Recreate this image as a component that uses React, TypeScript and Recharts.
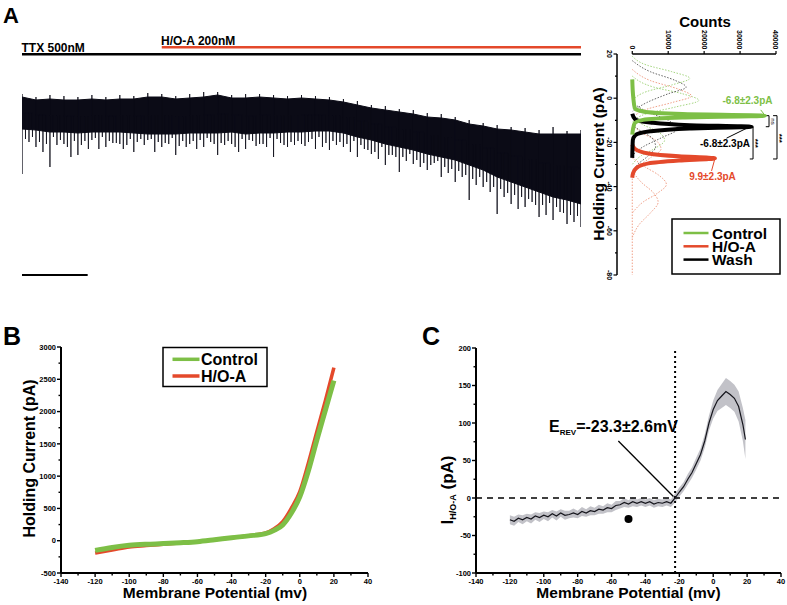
import React from "react";
import {
  ComposedChart,
  ScatterChart,
  Scatter,
  Line,
  Area,
  XAxis,
  YAxis,
  ReferenceLine,
  ReferenceDot,
} from "recharts";

const FONT = '"Liberation Sans", Arial, Helvetica, sans-serif';
const GREEN = "#7dbf46";
const RED = "#e4492b";
const INK = "#000";
const TRACE = "#0b0b16";

// ---- A: holding current trace (t = sample index, pA relative to start)
const traceT = [0, 1, 2, 3, 4, 5, 6, 7, 8, 9, 10, 11, 12, 13, 14, 15, 16, 17, 18, 19, 20, 21, 22, 23, 24, 25, 26, 27, 28, 29, 30, 31, 32, 33, 34, 35, 36, 37, 38, 39, 40];
const traceTop = [0, -3, -2, -3, -3, -2, -3, -2, -2, 0, 0, -2, -1, 0, 2, -1, -1, 0, -1, -2, -1, -2, -3, -5, -8, -11, -13, -15, -17, -20, -21, -23, -27, -29, -32, -33, -35, -37, -37, -37, -37];
const traceBottom = [-32, -33, -35, -35, -36, -35, -35, -35, -36, -37, -37, -37, -36, -36, -36, -35, -37, -36, -36, -35, -35, -34, -34, -36, -40, -43, -47, -50, -53, -57, -60, -63, -68, -73, -80, -85, -90, -95, -100, -103, -107];
// upward excursions above the dense band
const traceUp = [3, 0, 2, 1, 0, 2, 0, 2, 1, 4, 3, 1, 3, 5, 5, 2, 3, 3, 2, 1, 2, 1, 0, -2, -4, -8, -9, -12, -13, -16, -17, -20, -23, -26, -28, -30, -31, -33, -30, -34, -33];
// downward events at t, t+0.25, t+0.5, t+0.75
const traceSpike = [-77, -50, -70, -47, -58, -43, -50, -47, -55, -43, -50, -58, -47, -50, -58, -47, -52, -47, -60, -50, -47, -52, -53, -50, -60, -57, -68, -75, -67, -73, -80, -85, -103, -90, -117, -107, -110, -120, -123, -127, -130];
const traceSpikeC = [-42, -45, -40, -50, -48, -41, -44, -52, -45, -42, -46, -49, -44, -41, -46, -50, -43, -47, -42, -45, -49, -40, -44, -47, -48, -55, -58, -60, -63, -68, -70, -74, -82, -85, -92, -98, -102, -108, -110, -118];
const traceSpikeB = [-45, -55, -48, -60, -44, -52, -46, -48, -42, -55, -47, -44, -52, -45, -48, -55, -44, -50, -46, -48, -45, -50, -48, -55, -52, -62, -58, -64, -70, -66, -76, -80, -88, -95, -100, -112, -105, -118, -115, -125];
const traceSpikeD = [-40, -47, -43, -44, -52, -40, -46, -42, -48, -45, -41, -50, -43, -47, -44, -42, -49, -41, -48, -44, -42, -46, -45, -44, -53, -50, -60, -57, -66, -64, -72, -78, -80, -90, -96, -100, -108, -106, -116, -119];

const drugs = [
  { name: "TTX 500nM", from: 0, to: 40, level: 42.7, color: INK },
  { name: "H/O-A 200nM", from: 10, to: 40, level: 49.7, color: RED },
];
const scaleBar = { from: 0, to: 4.7, level: -178 };

// ---- A: all-points histograms, [pA, counts]
const histControl = [[8.5, 0], [0, 300], [-4.5, 700], [-6, 3000], [-7.2, 14000], [-7.9, 36900], [-8.7, 14000], [-9.8, 3000], [-11.5, 600], [-16.5, 0]];
const histHOA = [[-21, 0], [-23, 800], [-25, 4500], [-26.3, 13000], [-27.2, 23000], [-28.2, 13000], [-29.5, 4500], [-31.5, 1200], [-34, 200], [-36, 0]];
const histWash = [[-7, 0], [-9.5, 800], [-11, 5000], [-12.2, 16000], [-12.9, 33200], [-13.7, 16000], [-15, 5000], [-16.8, 800], [-19, 150], [-27, 0]];

const cellsControl = [
  [[19, 0], [15, 4000], [12, 11000], [9, 16000], [6, 11000], [3, 4000], [-1, 0]],
  [[10, 0], [5, 6000], [2, 14000], [-1, 18500], [-4, 12000], [-7, 4000], [-11, 0]],
  [[-8, 0], [-12, 3000], [-15, 7000], [-19, 9000], [-23, 6000], [-26, 2500], [-30, 0]],
];
const cellsHOA = [
  [[13, 0], [8, 5000], [4, 13000], [1, 16500], [-2, 11000], [-5, 4000], [-9, 0]],
  [[-12, 0], [-16, 3000], [-19, 6500], [-23, 8000], [-27, 5000], [-31, 1500], [-34, 0]],
  [[-27, 0], [-31, 3500], [-35, 7500], [-39, 9500], [-43, 7000], [-47, 3000], [-52, 0]],
  [[-33, 0], [-38, 2500], [-43, 6000], [-47, 7200], [-52, 5000], [-57, 2000], [-63, 0]],
  [[-35, 0], [-80, 0]],
];
const cellsWash = [
  [[17, 0], [12, 5000], [8, 12000], [5, 15000], [2, 10000], [-2, 4000], [-6, 0]],
  [[-2, 0], [-6, 4000], [-10, 10000], [-14, 12500], [-18, 8000], [-22, 3000], [-26, 0]],
  [[-12, 0], [-15, 2500], [-18, 5500], [-22, 6500], [-26, 4500], [-30, 1500], [-34, 0]],
];

const histYTicks = [-80, -70, -60, -50, -40, -30, -20, -10, 0, 10, 20];
const histXTicks = [0, 10000, 20000, 30000, 40000];

// leader lines from labels to peaks, [counts, pA]
const leaders = [
  { color: GREEN, from: [35750, -5.3], to: [36860, -7.6] },
  { color: INK, from: [26220, -18.1], to: [32700, -12.9] },
  { color: RED, from: [22060, -32.9], to: [22970, -27.5] },
];
// significance brackets: vertical at x (counts), between two pA levels
const brackets = [
  { x: 38060, top: -7.9, bottom: -12.9, arm: 900 },
  { x: 33610, top: -12.9, bottom: -27.5, arm: 900 },
  { x: 40280, top: -7.9, bottom: -27.5, arm: 1100 },
];

// ---- B: I-V curves
const ivV = [-120, -110, -100, -90, -80, -70, -60, -50, -40, -30, -20, -15, -10, -5, 0, 5, 10, 15, 20];
const ivControl = [-150, -105, -72, -55, -45, -32, -15, 15, 47, 75, 110, 160, 245, 425, 680, 1080, 1560, 2020, 2480];
const ivHOA = [-190, -145, -97, -75, -55, -35, -15, 15, 47, 78, 120, 185, 295, 500, 760, 1200, 1690, 2170, 2680];
const ivXTicks = [-140, -130, -120, -110, -100, -90, -80, -70, -60, -50, -40, -30, -20, -10, 0, 10, 20, 30, 40];
const ivYTicks = [-500, -250, 0, 250, 500, 750, 1000, 1250, 1500, 1750, 2000, 2250, 2500, 2750, 3000];

// ---- C: H/O-A induced current
const cV = [-120, -117.5, -115, -112.5, -110, -107.5, -105, -102.5, -100, -97.5, -95, -92.5, -90, -87.5, -85, -82.5, -80, -77.5, -75, -72.5, -70, -67.5, -65, -62.5, -60, -57.5, -55, -52.5, -50, -47.5, -45, -42.5, -40, -37.5, -35, -32.5, -30, -27.5, -25, -22.5, -20, -17.5, -15, -12.5, -10, -7.5, -5, -2.5, 0, 2.5, 5, 7.5, 10, 12.5, 15, 17.5, 19];
const cI = [-29, -31, -27, -29, -26, -28, -24, -26, -23, -25, -21, -24, -20, -23, -22, -20, -22, -18, -20, -17, -18, -15, -16, -13, -14, -10, -9, -6, -8, -5, -7, -5, -7, -5, -8, -6, -7, -5, -7, 0, 8, 15, 25, 34, 46, 58, 76, 100, 118, 130, 136, 142, 138, 133, 122, 98, 78];
const cSem = [6, 6, 5, 6, 5, 6, 5, 6, 5, 6, 5, 6, 5, 6, 5, 6, 5, 6, 5, 6, 5, 6, 5, 6, 5, 6, 5, 6, 5, 6, 5, 5, 5, 5, 5, 5, 5, 5, 5, 6, 6, 6, 7, 7, 8, 8, 9, 10, 12, 14, 16, 18, 18, 18, 20, 22, 26];
const cYTicks = [-100, -75, -50, -25, 0, 25, 50, 75, 100, 125, 150, 175, 200];
const eRev = -22.5;
const eRevPointer = { from: { x: -56, y: 76 }, to: { x: -23.5, y: 2 } };
const markDot = { x: -50, y: -28 };

const histLegend = [
  { name: "Control", color: GREEN },
  { name: "H/O-A", color: RED },
  { name: "Wash", color: INK },
];
const ivLegend = [
  { name: "Control", color: GREEN },
  { name: "H/O-A", color: RED },
];

const traceRows = traceT.map((t, i) => ({ t, band: [traceBottom[i], traceTop[i]] }));
// one continuous trace: each event is a vertical excursion out of the band's middle
const spikeRows = traceT.flatMap((t, i) => {
  const mid = (traceTop[i] + traceBottom[i]) / 2;
  const rows = [{ t, v: mid }, { t, v: traceUp[i] }, { t, v: traceSpike[i] }, { t, v: mid }];
  const extra: [number, number[]][] = [[0.25, traceSpikeC], [0.5, traceSpikeB], [0.75, traceSpikeD]];
  extra.forEach(([dt, arr]) => {
    if (i < arr.length) rows.push({ t: t + dt, v: mid }, { t: t + dt, v: arr[i] }, { t: t + dt, v: mid });
  });
  return rows;
});
const ivRows = ivV.map((v, i) => ({ v, ctl: ivControl[i], hoa: ivHOA[i] }));
const cRows = cV.map((v, i) => ({ v, m: cI[i], band: [cI[i] - cSem[i], cI[i] + cSem[i]] }));
const toPts = (a: number[][]) => a.map(([p, c]) => ({ p, c }));

const noDot = () => <g />;

const tickText = { fontSize: 7.5, fontWeight: 700, fontFamily: FONT, fill: INK };

const bottomTick = (major: number) => (p: any) => {
  const v = p.payload.value;
  const isMajor = Math.abs(v) % major === 0;
  return (
    <g>
      <line x1={p.x} y1={p.y} x2={p.x} y2={p.y + (isMajor ? 4 : 2.5)} stroke={INK} strokeWidth={1.4} />
      {isMajor && (
        <text x={p.x} y={p.y + 10.5} textAnchor="middle" {...tickText}>
          {v}
        </text>
      )}
    </g>
  );
};

const leftTick = (major: number) => (p: any) => {
  const v = p.payload.value;
  const isMajor = Math.abs(v) % major === 0;
  return (
    <g>
      <line x1={p.x} y1={p.y} x2={p.x - (isMajor ? 4 : 2.5)} y2={p.y} stroke={INK} strokeWidth={1.4} />
      {isMajor && (
        <text x={p.x - 5} y={p.y + 2.7} textAnchor="end" {...tickText}>
          {v}
        </text>
      )}
    </g>
  );
};

// histogram is drawn sideways, so its labels read top to bottom
const histLeftTick = (p: any) => {
  const v = p.payload.value;
  const isMajor = Math.abs(v) % 20 === 0;
  const tx = p.x - 10.5;
  return (
    <g>
      <line x1={p.x} y1={p.y} x2={p.x - (isMajor ? 3.5 : 2)} y2={p.y} stroke={INK} strokeWidth={1.2} />
      {isMajor && (
        <text x={tx} y={p.y} transform={`rotate(90 ${tx} ${p.y})`} textAnchor="middle" {...tickText} fontSize={7}>
          {v}
        </text>
      )}
    </g>
  );
};

const histTopTick = (p: any) => {
  const tx = p.x - 2.6;
  const ty = p.y - 4.5;
  return (
    <g>
      <line x1={p.x} y1={p.y} x2={p.x} y2={p.y - 3} stroke={INK} strokeWidth={1.2} />
      <text x={tx} y={ty} transform={`rotate(90 ${tx} ${ty})`} textAnchor="end" {...tickText} fontSize={7}>
        {p.payload.value}
      </text>
    </g>
  );
};

function LegendBox({ items, x, y, w, h, firstY, rowH, lineX1, lineX2, lineW, textX, fontSize }: {
  items: { name: string; color: string }[];
  x: number;
  y: number;
  w: number;
  h: number;
  firstY: number;
  rowH: number;
  lineX1: number;
  lineX2: number;
  lineW: number;
  textX: number;
  fontSize: number;
}) {
  return (
    <g>
      <rect x={x} y={y} width={w} height={h} fill="#fff" stroke={INK} strokeWidth={1.5} />
      {items.map((it, i) => {
        const cy = firstY + i * rowH;
        return (
          <g key={it.name}>
            <line x1={lineX1} x2={lineX2} y1={cy} y2={cy} stroke={it.color} strokeWidth={lineW} />
            <text x={textX} y={cy + fontSize * 0.36} fontSize={fontSize}>
              {it.name}
            </text>
          </g>
        );
      })}
    </g>
  );
}

export default function App() {
  const axisStroke = { stroke: INK, strokeWidth: 2 };
  return (
    <div style={{ position: "relative", width: 787, height: 605, background: "#fff", fontFamily: FONT, overflow: "hidden" }}>
      <style>{"body{margin:0}"}</style>

      {/* A: trace */}
      <div style={{ position: "absolute", left: 22, top: 40 }}>
        <ComposedChart width={559} height={240} data={traceRows} margin={{ top: 0, right: 0, bottom: 0, left: 0 }}>
          <XAxis dataKey="t" type="number" domain={[0, 40]} allowDataOverflow hide />
          <YAxis type="number" domain={[-183, 57]} allowDataOverflow hide />
          <Area dataKey="band" type="linear" stroke={TRACE} strokeWidth={1} fill={TRACE} fillOpacity={1} isAnimationActive={false} />
          <Line data={spikeRows} dataKey="v" type="linear" stroke={TRACE} strokeWidth={0.8} dot={false} isAnimationActive={false} />
          {drugs.map((d) => (
            <ReferenceLine
              key={d.name}
              segment={[{ x: d.from, y: d.level }, { x: d.to, y: d.level }]}
              stroke={d.color}
              strokeWidth={2.5}
              ifOverflow="visible"
            />
          ))}
          <ReferenceLine
            segment={[{ x: scaleBar.from, y: scaleBar.level }, { x: scaleBar.to, y: scaleBar.level }]}
            stroke={INK}
            strokeWidth={2}
            ifOverflow="visible"
          />
        </ComposedChart>
      </div>

      {/* A: histogram */}
      <div style={{ position: "absolute", left: 587, top: 24 }}>
        <ScatterChart width={200} height={256} margin={{ top: 0, right: 11, bottom: 5, left: 0 }}>
          <XAxis
            dataKey="c"
            type="number"
            orientation="top"
            domain={[-4250, 40000]}
            allowDataOverflow
            ticks={histXTicks}
            interval={0}
            height={30}
            axisLine={false}
            tickLine={false}
            tickSize={0}
            tickMargin={0}
            tick={histTopTick}
          />
          <YAxis
            dataKey="p"
            type="number"
            domain={[-80, 20]}
            allowDataOverflow
            ticks={histYTicks}
            interval={0}
            width={30}
            axisLine={{ stroke: INK, strokeWidth: 1.5 }}
            tickLine={false}
            tickSize={0}
            tickMargin={0}
            tick={histLeftTick}
          />
          <ReferenceLine segment={[{ x: 0, y: 20 }, { x: 40000, y: 20 }]} stroke={INK} strokeWidth={1.5} ifOverflow="visible" />
          {cellsControl.map((c, i) => (
            <Scatter key={`cg${i}`} data={toPts(c)} fill={GREEN} shape={noDot} lineJointType="monotoneY"
              line={{ stroke: "#a6d682", strokeWidth: 1, strokeDasharray: "1.5 1.5" }} isAnimationActive={false} />
          ))}
          {cellsHOA.map((c, i) => (
            <Scatter key={`cr${i}`} data={toPts(c)} fill={RED} shape={noDot} lineJointType="monotoneY"
              line={{ stroke: "#f0a088", strokeWidth: 1, strokeDasharray: "1.5 1.5" }} isAnimationActive={false} />
          ))}
          {cellsWash.map((c, i) => (
            <Scatter key={`ck${i}`} data={toPts(c)} fill={INK} shape={noDot} lineJointType="monotoneY"
              line={{ stroke: "#666", strokeWidth: 1, strokeDasharray: "1.5 1.5" }} isAnimationActive={false} />
          ))}
          <Scatter data={toPts(histHOA)} fill={RED} shape={noDot} lineJointType="monotoneY"
            line={{ stroke: RED, strokeWidth: 4 }} isAnimationActive={false} />
          <Scatter data={toPts(histWash)} fill={INK} shape={noDot} lineJointType="monotoneY"
            line={{ stroke: INK, strokeWidth: 4 }} isAnimationActive={false} />
          <Scatter data={toPts(histControl)} fill={GREEN} shape={noDot} lineJointType="monotoneY"
            line={{ stroke: GREEN, strokeWidth: 4 }} isAnimationActive={false} />
          {leaders.map((l, i) => (
            <ReferenceLine key={`l${i}`} segment={[{ x: l.from[0], y: l.from[1] }, { x: l.to[0], y: l.to[1] }]}
              stroke={l.color} strokeWidth={1} ifOverflow="visible" />
          ))}
          {brackets.flatMap((b, i) => [
            <ReferenceLine key={`bv${i}`} segment={[{ x: b.x, y: b.top }, { x: b.x, y: b.bottom }]} stroke={INK} strokeWidth={1} ifOverflow="visible" />,
            <ReferenceLine key={`bt${i}`} segment={[{ x: b.x - b.arm, y: b.top }, { x: b.x, y: b.top }]} stroke={INK} strokeWidth={1} ifOverflow="visible" />,
            <ReferenceLine key={`bb${i}`} segment={[{ x: b.x - b.arm, y: b.bottom }, { x: b.x, y: b.bottom }]} stroke={INK} strokeWidth={1} ifOverflow="visible" />,
          ])}
        </ScatterChart>
      </div>

      {/* B: I-V */}
      <div style={{ position: "absolute", left: 21, top: 337 }}>
        <ComposedChart width={357} height={256} data={ivRows} margin={{ top: 10, right: 10, bottom: 0, left: 0 }}>
          <XAxis dataKey="v" type="number" domain={[-140, 40]} allowDataOverflow ticks={ivXTicks} interval={0} height={20}
            axisLine={axisStroke} tickLine={false} tickSize={0} tickMargin={0} tick={bottomTick(20)} />
          <YAxis type="number" domain={[-500, 3000]} allowDataOverflow ticks={ivYTicks} interval={0} width={40}
            axisLine={axisStroke} tickLine={false} tickSize={0} tickMargin={0} tick={leftTick(500)} />
          <Line dataKey="hoa" type="monotone" stroke={RED} strokeWidth={3.5} dot={false} isAnimationActive={false} />
          <Line dataKey="ctl" type="monotone" stroke={GREEN} strokeWidth={5} dot={false} isAnimationActive={false} />
        </ComposedChart>
      </div>

      {/* C: difference current */}
      <div style={{ position: "absolute", left: 436, top: 338 }}>
        <ComposedChart width={351} height={255} data={cRows} margin={{ top: 10, right: 6, bottom: 0, left: 0 }}>
          <XAxis dataKey="v" type="number" domain={[-140, 40]} allowDataOverflow ticks={ivXTicks} interval={0} height={20}
            axisLine={axisStroke} tickLine={false} tickSize={0} tickMargin={0} tick={bottomTick(20)} />
          <YAxis type="number" domain={[-100, 200]} allowDataOverflow ticks={cYTicks} interval={0} width={40}
            axisLine={axisStroke} tickLine={false} tickSize={0} tickMargin={0} tick={leftTick(50)} />
          <ReferenceLine y={0} stroke={INK} strokeWidth={1.5} strokeDasharray="6 5" />
          <ReferenceLine x={eRev} stroke={INK} strokeWidth={2} strokeDasharray="2 3" />
          <Area dataKey="band" type="linear" stroke="none" fill="#c2c2c8" fillOpacity={1} isAnimationActive={false} />
          <Line dataKey="m" type="linear" stroke="#15151c" strokeWidth={1.2} dot={false} isAnimationActive={false} />
          <ReferenceLine segment={[eRevPointer.from, eRevPointer.to]} stroke={INK} strokeWidth={1.3} />
          <ReferenceDot x={markDot.x} y={markDot.y} r={4} fill={INK} stroke="none" />
        </ComposedChart>
      </div>

      {/* text layer */}
      <svg width={787} height={605} style={{ position: "absolute", left: 0, top: 0, pointerEvents: "none" }} fontFamily={FONT} fontWeight={700}>
        <text x={3} y={23} fontSize={22}>A</text>
        <text x={21.5} y={51.5} fontSize={12}>{drugs[0].name}</text>
        <text x={161} y={44.5} fontSize={12}>{drugs[1].name}</text>
        <text x={705} y={27} fontSize={15} textAnchor="middle">Counts</text>
        <text x={604} y={164} fontSize={15.5} textAnchor="middle" transform="rotate(-90 604 164)">Holding Current (pA)</text>
        <text x={747.5} y={103.5} fontSize={10} textAnchor="middle" fill={GREEN}>-6.8±2.3pA</text>
        <text x={725} y={147} fontSize={10} textAnchor="middle" fill={INK}>-6.8±2.3pA</text>
        <text x={712.5} y={179.5} fontSize={10} textAnchor="middle" fill={RED}>9.9±2.3pA</text>
        <text x={770.5} y={121.5} fontSize={6} textAnchor="middle" fontWeight={400} transform="rotate(90 770.5 121.5)">ns</text>
        <text x={753} y={143.3} fontSize={8} textAnchor="middle" transform="rotate(90 753 143.3)">***</text>
        <text x={777} y={138.3} fontSize={8} textAnchor="middle" transform="rotate(90 777 138.3)">***</text>
        <LegendBox items={histLegend} x={672} y={219} w={108} h={55} firstY={233} rowH={13.3}
          lineX1={683.5} lineX2={708.5} lineW={2.5} textX={712} fontSize={15.5} />

        <text x={3} y={345} fontSize={25}>B</text>
        <text x={35} y={458.5} fontSize={16} textAnchor="middle" transform="rotate(-90 35 458.5)">Holding Current (pA)</text>
        <text x={215} y={598} fontSize={15.5} textAnchor="middle">Membrane Potential (mv)</text>
        <LegendBox items={ivLegend} x={163} y={347.5} w={104} h={39} firstY={359.3} rowH={16.7}
          lineX1={172.5} lineX2={199.5} lineW={3.5} textX={201} fontSize={16} />

        <text x={422} y={345} fontSize={25}>C</text>
        <text x={453} y={490} fontSize={17} textAnchor="middle" transform="rotate(-90 453 490)">
          I<tspan fontSize={9} dy={3}>H/O-A</tspan><tspan dy={-3}> (pA)</tspan>
        </text>
        <text x={628.5} y={598} fontSize={15.5} textAnchor="middle">Membrane Potential (mv)</text>
        <text x={549} y={432} fontSize={16}>
          E<tspan fontSize={8} dy={3}>REV</tspan><tspan dy={-3}>=-23.3±2.6mV</tspan>
        </text>
      </svg>
    </div>
  );
}
